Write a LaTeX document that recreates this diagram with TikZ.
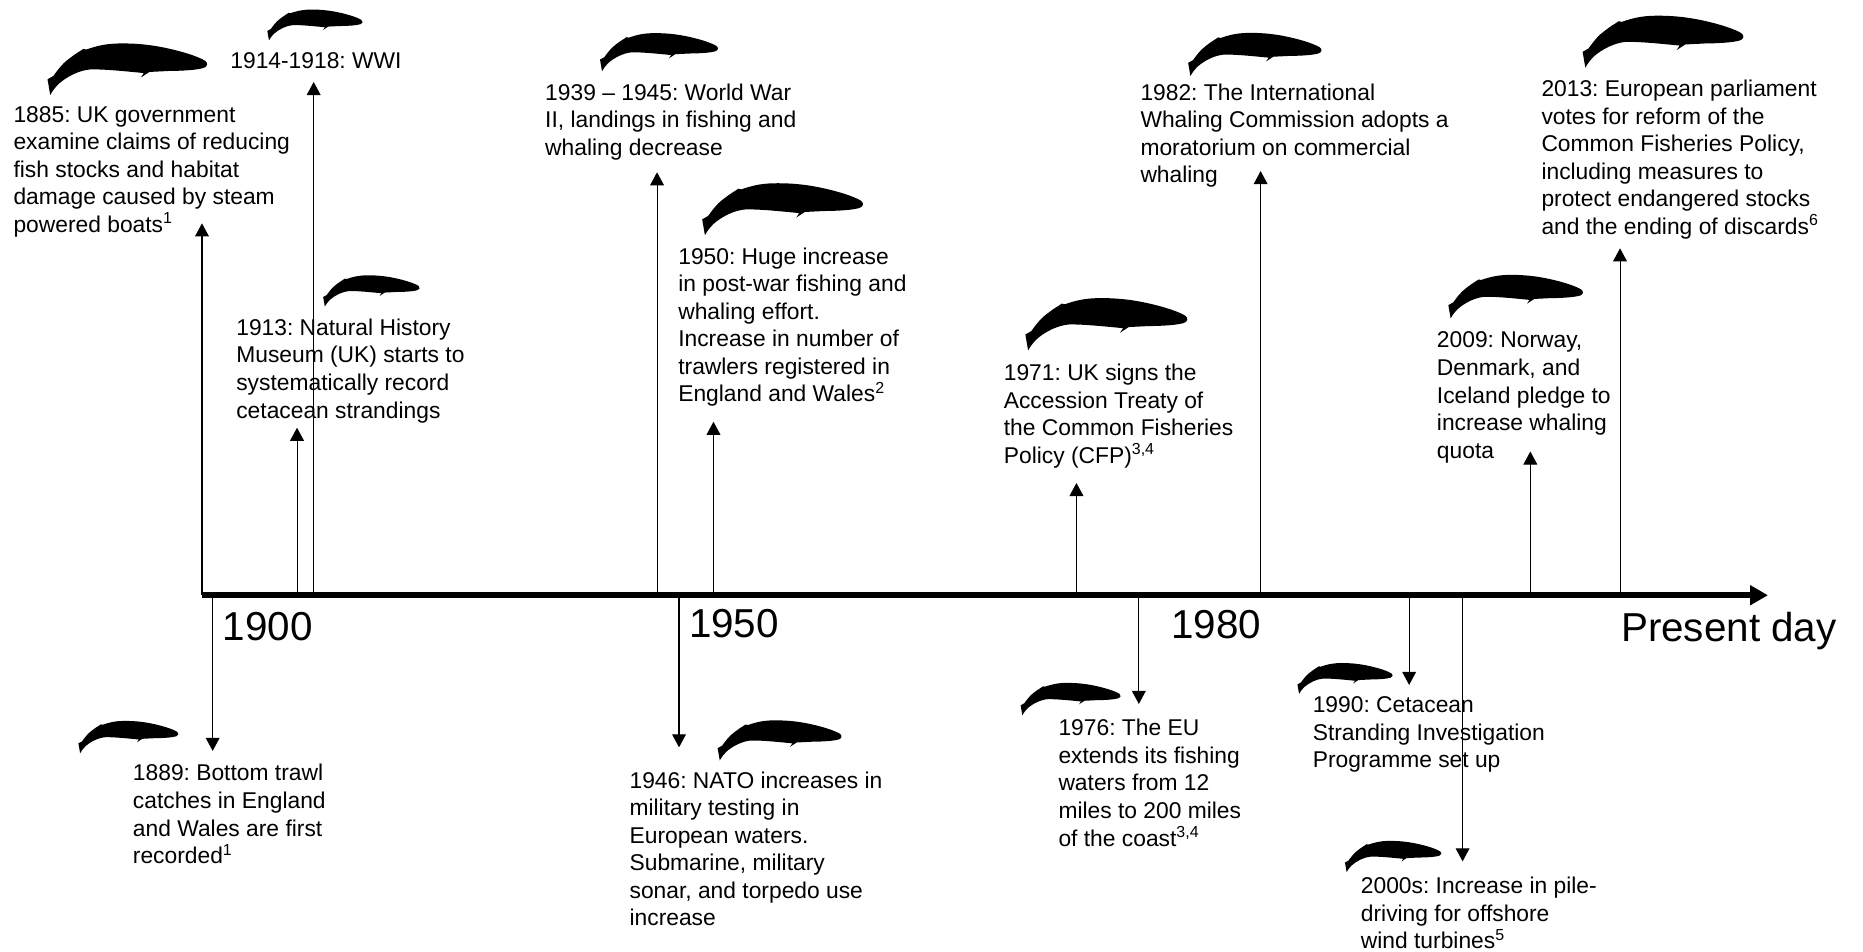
\documentclass[tikz,border=0pt]{standalone}
\usepackage{fontspec}
\setmainfont{Liberation Sans}
\usetikzlibrary{arrows.meta}
\frenchspacing

% whale silhouette, tail tip at the origin, 100 units long
\tikzset{
    pics/whale/.style={code={
        \fill (1.7,0) -- (0,9.9) -- (3.7,12)
            .. controls (5.5,14.5) and (9,19.5) .. (13,22.4)
            .. controls (15.5,24.3) and (18,26.2) .. (20.3,27.5)
            -- (22.5,29) -- (24.4,28.6)
            .. controls (30,30.5) and (36,32.3) .. (45,32.4)
            .. controls (58,32.6) and (68,31) .. (76,29.2)
            .. controls (86,27) and (95,24) .. (99,21.5)
            .. controls (101,20) and (100.5,17.8) .. (98,17)
            .. controls (94,15.8) and (86,15.2) .. (76,15.1)
            -- (64,14.5) -- (58.6,11) -- (60.5,13.8)
            .. controls (50,14.8) and (36,16.3) .. (27,16.1)
            .. controls (20,15.6) and (12,11.5) .. (7,7)
            .. controls (5,5) and (3,2.5) .. (1.7,0) -- cycle;
    }}
}

\begin{document}
\begin{tikzpicture}[
    x=0.5pt, y=0.5pt,
    font=\fontsize{9.6}{11.6}\selectfont,
    event/.style={anchor=north west, inner sep=0pt, align=left},
    year/.style={anchor=north west, inner sep=0pt,
        font=\fontsize{17}{20}\selectfont},
    axis/.style={line width=2.5pt, -{Triangle[width=8pt, length=7.5pt]}},
    link/.style={line width=0.45pt, -{Triangle[width=5.8pt, length=5.5pt]}}
]
\useasboundingbox (0,-300) rectangle (1568,501);

% time axis
\coordinate (start) at (170,0);
\coordinate (now) at (1488,0);

\node[year] (y1900) at (187,-14) {1900};
\node[year] (y1950) at (579.5,-11) {1950};
\node[year] (y1980) at (985.5,-12.5) {1980};
\node[year] (ynow) at (1364,-14) {Present day};

% events above the axis
\node[event] (e1885) at (11,412) {1885: UK government\\examine claims of reducing\\fish stocks and habitat\\damage caused by steam\\powered boats\textsuperscript{1}};
\node[event] (e1914) at (193.5,457) {1914-1918: WWI};
\node[event] (e1913) at (198.5,233) {1913: Natural History\\Museum (UK) starts to\\systematically record\\cetacean strandings};
\node[event] (e1939) at (458.5,431) {1939 – 1945: World War\\II, landings in fishing and\\whaling decrease};
\node[event] (e1950) at (570.5,293) {1950: Huge increase\\in post-war fishing and\\whaling effort.\\Increase in number of\\trawlers registered in\\England and Wales\textsuperscript{2}};
\node[event] (e1971) at (844.5,195) {1971: UK signs the\\Accession Treaty of\\the Common Fisheries\\Policy (CFP)\textsuperscript{3,4}};
\node[event] (e1982) at (959.5,431) {1982: The International\\Whaling Commission adopts a\\moratorium on commercial\\whaling};
\node[event] (e2009) at (1209,222) {2009: Norway,\\Denmark, and\\Iceland pledge to\\increase whaling\\quota};
\node[event] (e2013) at (1297,434) {2013: European parliament\\votes for reform of the\\Common Fisheries Policy,\\including measures to\\protect endangered stocks\\and the ending of discards\textsuperscript{6}};

% events below the axis
\node[event] (e1889) at (111.5,-142) {1889: Bottom trawl\\catches in England\\and Wales are first\\recorded\textsuperscript{1}};
\node[event] (e1946) at (529.5,-148) {1946: NATO increases in\\military testing in\\European waters.\\Submarine, military\\sonar, and torpedo use\\increase};
\node[event] (e1976) at (890.5,-104) {1976: The EU\\extends its fishing\\waters from 12\\miles to 200 miles\\of the coast\textsuperscript{3,4}};
\node[event] (e1990) at (1104.5,-85) {1990: Cetacean\\Stranding Investigation\\Programme set up};
\node[event] (e2000) at (1145,-237) {2000s: Increase in pile-\\driving for offshore\\wind turbines\textsuperscript{5}};

% whales
\pic[scale=1.34] at (40,421) {whale};
\pic[scale=0.80] at (225,467) {whale};
\pic[scale=0.81] at (272,243) {whale};
\pic[scale=0.99] at (505,441) {whale};
\pic[scale=1.35] at (591,303) {whale};
\pic[scale=1.36] at (863,206) {whale};
\pic[scale=1.12] at (1000,437) {whale};
\pic[scale=1.13] at (1219,233) {whale};
\pic[scale=1.35] at (1332,444) {whale};
\pic[scale=0.84] at (66,-133) {whale};
\pic[scale=1.04] at (604,-139) {whale};
\pic[scale=0.84] at (859,-101) {whale};
\pic[scale=0.80] at (1092,-83) {whale};
\pic[scale=0.81] at (1132,-233) {whale};

% feet on the axis and arrow tips
\coordinate (f1885) at (170,0);   \coordinate (t1885) at (170,313);
\coordinate (f1914) at (264,0);   \coordinate (t1914) at (264,432);
\coordinate (f1913) at (250,0);   \coordinate (t1913) at (250,141);
\coordinate (f1939) at (553,0);   \coordinate (t1939) at (553,356);
\coordinate (f1950) at (600.5,0); \coordinate (t1950) at (600.5,146);
\coordinate (f1971) at (906,0);   \coordinate (t1971) at (906,94.5);
\coordinate (f1982) at (1061,0);  \coordinate (t1982) at (1061,357);
\coordinate (f2009) at (1288,0);  \coordinate (t2009) at (1288,121);
\coordinate (f2013) at (1363.5,0);\coordinate (t2013) at (1363.5,292);
\coordinate (f1889) at (179,0);   \coordinate (t1889) at (179,-131);
\coordinate (f1946) at (571.5,0); \coordinate (t1946) at (571.5,-128);
\coordinate (f1976) at (958.5,0); \coordinate (t1976) at (958.5,-91.5);
\coordinate (f1990) at (1186,0);  \coordinate (t1990) at (1186,-75.5);
\coordinate (f2000) at (1231,0);  \coordinate (t2000) at (1231,-224);

\draw[link] (f1885) -- (t1885);
\draw[link] (f1914) -- (t1914);
\draw[link] (f1913) -- (t1913);
\draw[link] (f1939) -- (t1939);
\draw[link] (f1950) -- (t1950);
\draw[link] (f1971) -- (t1971);
\draw[link] (f1982) -- (t1982);
\draw[link] (f2009) -- (t2009);
\draw[link] (f2013) -- (t2013);
\draw[link] (f1889) -- (t1889);
\draw[link] (f1946) -- (t1946);
\draw[link] (f1976) -- (t1976);
\draw[link] (f1990) -- (t1990);
\draw[link] (f2000) -- (t2000);

\draw[axis] (start) -- (now);

\end{tikzpicture}
\end{document}
